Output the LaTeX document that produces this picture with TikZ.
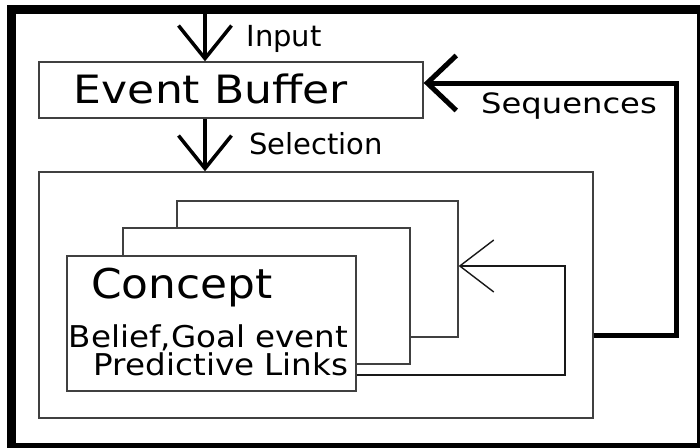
\documentclass[tikz,border=0pt]{standalone}
\usepackage{fontspec}
\usepackage{graphicx}
\setmainfont{DejaVu Sans}
\usetikzlibrary{arrows.meta}
\newcommand{\fsz}[1]{\fontsize{#1}{#1}\selectfont}
\begin{document}
\begin{tikzpicture}[x=1pt,y=-1pt,
  box/.style={draw=black!75, line width=1.3pt, fill=white, inner sep=0pt},
  lbl/.style={anchor=base, inner sep=0pt},
  flow/.style={line width=3.5pt, -{Straight Barb[length=33pt,width=53pt]}},
  feedback/.style={line width=5pt, -{Straight Barb[length=29pt,width=55pt]}},
  loopback/.style={line width=1.4pt, draw=black!90, -{Straight Barb[length=34pt,width=52pt]}}]
\useasboundingbox (0,0) rectangle (700,447);
\clip (0,0) rectangle (700,447);
\fill[white] (0,0) rectangle (700,447);
% heavy outer frame
\draw[line width=9pt] (11.5,9) rectangle (701.5,447.5);

% event buffer
\node[box, minimum width=384pt, minimum height=56pt] (eb) at (231,90) {};
\node[lbl, font=\fsz{39}] (ebt) at (211,103) {\scalebox{1.13}[1]{Event Buffer}};

% concept store with stacked concepts
\node[box, minimum width=554pt, minimum height=246pt] (big) at (316,295) {};
\node[box, minimum width=281pt, minimum height=136pt] (c3) at (317.5,269) {};
\node[box, minimum width=287pt, minimum height=136pt] (c2) at (266.5,296) {};
\node[box, minimum width=289pt, minimum height=135pt] (c1) at (211.5,323.5) {};
\node[lbl, font=\fsz{41}] (ct) at (182,298) {\scalebox{1.07}[1]{Concept}};
% the base anchor of this two-line node sits on the last line
\node[anchor=base east, inner sep=0pt, align=right, font=\fontsize{30}{26}\selectfont] (body) at (348.5,375)
  {\scalebox{1.085}[1]{Belief,Goal event}\\\scalebox{1.085}[1]{Predictive Links}};

% input and selection
\coordinate (src) at (205,9);
\draw[flow] (src) -- (src |- eb.north);
\draw[flow] (src |- eb.south) -- (src |- big.north);
\node[lbl, font=\fsz{29}] (inp) at (284,46) {Input};
\node[lbl, font=\fsz{29}] (sel) at (316,154) {Selection};

% sequences feeding back into the buffer
\coordinate (seqturn) at (676,83);
\draw[feedback] (big.east |- 0,335) -| (seqturn) -- (eb.east |- seqturn);
\node[lbl, font=\fsz{28}] (seq) at (569,113) {\scalebox{1.15}[1]{Sequences}};

% predictive links looping back to the concepts
\coordinate (loopturn) at (565,266);
\draw[loopback] (c1.east |- 0,375) -| (loopturn) -- (c3.east |- loopturn);
\end{tikzpicture}
\end{document}
